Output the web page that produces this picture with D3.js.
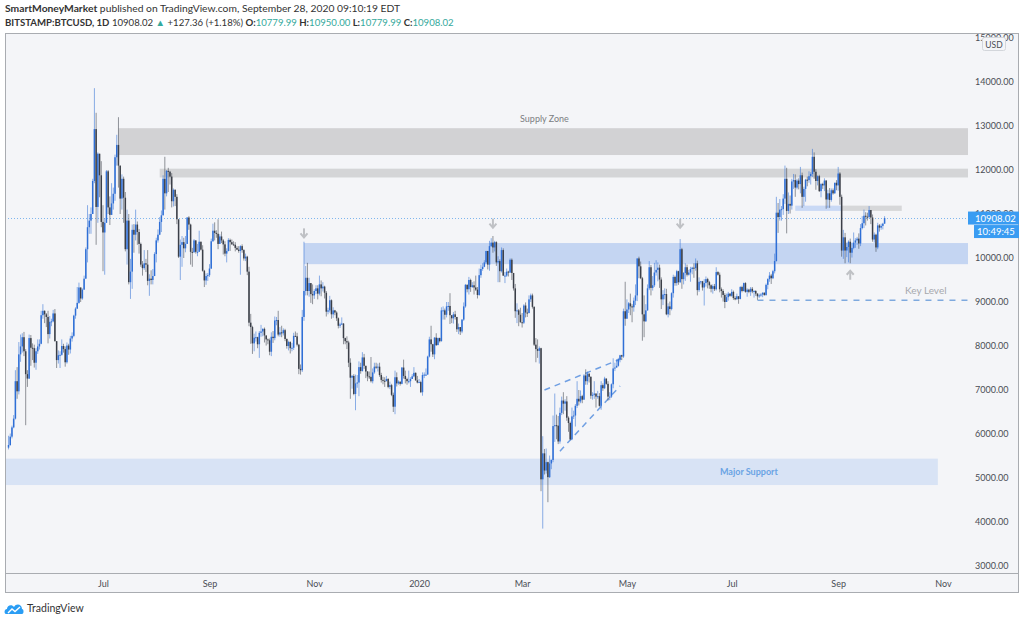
<!DOCTYPE html>
<html>
<head>
<meta charset="utf-8">
<script src="https://cdnjs.cloudflare.com/ajax/libs/d3/7.8.5/d3.min.js"></script>
<style>
  body { margin: 0; background: #fff; }
  svg { display: block; font-family: Lato, "Open Sans", sans-serif; }
</style>
</head>
<body>
<svg id="chart" width="1024" height="623"></svg>
<script>
// BITSTAMP:BTCUSD daily candles, 2019-05-07 .. 2020-09-28 (open = previous close)
const startDate = "2019-05-07";
const firstOpen = 5690;

const closes = [
  5750, 5940, 6150, 6350, 7200, 6970, 7810, 7990, 8200, 7880, 7360, 7260, 8180, 7960, 7950, 7620, 7880, 7990, 8050, 8700, 8800, 8720, 8660, 8270, 8550,
  8560, 8740, 8110, 7680, 7790, 7800, 8000, 7930, 7630, 8010, 7920, 8170, 8230, 8690, 8850, 8980, 9330, 9080, 9280, 9530, 10200, 10700, 10850, 11000, 11750, 12930, 11160, 12370, 11880, 10820,
  10580, 10800, 11970, 11150, 10980, 11240, 11460, 12290, 12570, 12100, 11350, 11800, 11370, 10200, 10850, 9450, 9690, 10640, 10530, 10760, 10590, 10320, 9850, 9770, 9880, 9850, 9480, 9530, 9500, 9590, 10090,
  10400, 10530, 10820, 10970, 11800, 11470, 11980, 11960, 11850, 11290, 11550, 11390, 10880, 10030, 10300, 10360, 10220, 10320, 10920, 10760, 10140, 10130, 10400, 10140, 10140, 10370, 10190, 9710, 9490, 9590, 9610,
  9760, 10380, 10620, 10570, 10550, 10320, 10490, 10400, 10310, 10100, 10160, 10410, 10360, 10310, 10300, 10230, 10190, 10160, 10270, 10180, 9990, 10030, 9690, 8530, 8430, 8060, 8190, 8200, 8040, 8300,
  8330, 8390, 8240, 8150, 8130, 7870, 8210, 8180, 8580, 8590, 8260, 8310, 8290, 8360, 8160, 8000, 8090, 7950, 7960, 8230, 8220, 8030, 7480, 7450, 8660, 9250, 9550, 9250, 9430, 9180, 9150,
  9250, 9310, 9190, 9400, 9310, 9350, 9210, 8780, 8810, 9040, 8720, 8810, 8760, 8630, 8460, 8490, 8510, 8180, 8110, 8080, 7620, 7280, 7320, 6910, 7150, 7170, 7520, 7430, 7740, 7550,
  7420, 7310, 7300, 7200, 7400, 7530, 7510, 7530, 7340, 7230, 7210, 7200, 7250, 7070, 7110, 6890, 6620, 7290, 7150, 7190, 7140, 7510, 7320, 7250, 7200, 7200, 7250, 7310, 7390, 7220, 7170,
  7180, 6950, 7340, 7350, 7350, 7760, 8150, 8040, 7810, 8190, 8020, 8180, 8110, 8810, 8810, 8710, 8900, 8910, 8700, 8630, 8720, 8660, 8380, 8430, 8330, 8600, 8900, 9390, 9290, 9500, 9340,
  9380, 9330, 9280, 9160, 9610, 9750, 9800, 9900, 10160, 9850, 10270, 10350, 10240, 10360, 9900, 9930, 9700, 10180, 9600, 9600, 9690, 9670, 9960, 9660, 9310, 8790, 8810, 8710, 8540,
  8530, 8920, 8760, 8750, 9060, 9150, 8890, 8030, 7930, 7890, 7950, 4970, 5560, 5170, 5360, 5020, 5330, 5410, 6180, 6200, 6190, 5830, 6480, 6760, 6690, 6740, 6370, 6250, 5880, 6400, 6420,
  6640, 6800, 6740, 6860, 6780, 7330, 7200, 7370, 7300, 6870, 6890, 6920, 6850, 6860, 6640, 7110, 7040, 7260, 7140, 6850, 6850, 7130, 7490, 7510, 7550, 7700, 7790, 7760, 8790, 8620,
  8830, 8970, 8900, 8880, 9030, 9150, 9990, 9810, 9540, 8720, 8560, 8810, 9310, 9790, 9320, 9380, 9670, 9730, 9780, 9510, 9060, 9170, 9180, 8720, 8900, 8840, 9200, 9570, 9430, 9700, 9450,
  10200, 9520, 9660, 9790, 9620, 9670, 9750, 9780, 9770, 9880, 9270, 9460, 9470, 9330, 9430, 9520, 9450, 9380, 9300, 9360, 9290, 9680, 9620, 9290, 9250, 9160, 9000, 9110, 9190, 9140,
  9230, 9090, 9060, 9130, 9070, 9340, 9250, 9430, 9230, 9280, 9230, 9300, 9240, 9250, 9190, 9130, 9150, 9170, 9210, 9160, 9390, 9520, 9600, 9540, 9700, 9930, 11030, 10930, 11100, 11110, 11350,
  11800, 11070, 11230, 11190, 11740, 11770, 11600, 11760, 11680, 11880, 11390, 11570, 11780, 11770, 11860, 11910, 12300, 11960, 11750, 11860, 11520, 11680, 11650, 11760, 11330, 11470, 11320, 11540, 11470, 11710, 11650,
  11920, 11390, 10170, 10470, 10170, 10250, 10370, 10120, 10230, 10350, 10400, 10440, 10330, 10680, 10790, 10960, 10940, 10930, 11090, 10920, 10420, 10530, 10240, 10740, 10690, 10730, 10780, 10908.02
];

const highs = [
  5960, 6010, 6190, 6430, 7450, 7520, 8090, 8260, 8290, 8320, 7930, 7450, 8260, 8250, 8060, 8030, 7950, 8150, 8150, 8800, 8950, 8810, 8750, 8800, 8680,
  8620, 8820, 8840, 8110, 7900, 7880, 8150, 8050, 7990, 8080, 8050, 8230, 8310, 8710, 8880, 9340, 9440, 9330, 9310, 9600, 10240, 11200, 11000, 11150, 11800, 13860, 13300, 12400, 12220, 12200,
  11200, 10900, 12000, 12000, 11400, 11700, 11600, 12350, 12800, 13200, 12100, 11900, 11850, 11500, 11100, 11000, 9980, 10760, 10770, 11100, 10830, 10660, 10350, 9930, 10180, 9980, 10180, 9630, 9720, 9750, 10130,
  10460, 10650, 10930, 11080, 11880, 12300, 12000, 12050, 11980, 11930, 11580, 11560, 11450, 10870, 10420, 10500, 10460, 10500, 10930, 10950, 10780, 10230, 10430, 10400, 10320, 10620, 10370, 10290, 9730, 9650, 9660,
  9860, 10440, 10780, 10810, 10630, 10880, 10540, 10600, 10430, 10380, 10220, 10450, 10440, 10420, 10380, 10360, 10270, 10270, 10290, 10310, 10200, 10100, 10050, 9800, 8730, 8460, 8280, 8330, 8210, 8340,
  8480, 8400, 8420, 8210, 8170, 8170, 8310, 8340, 8670, 8660, 8800, 8430, 8460, 8400, 8390, 8170, 8120, 8110, 8070, 8300, 8330, 8300, 8050, 7580, 8820, 10370, 9820, 9890, 9550, 9430, 9400,
  9290, 9380, 9380, 9600, 9490, 9450, 9370, 9250, 8870, 9140, 9060, 8880, 8820, 8790, 8650, 8530, 8650, 8520, 8190, 8220, 8120, 7720, 7340, 7360, 7350, 7340, 7650, 7620, 7860, 7820,
  7550, 7430, 7420, 7750, 7490, 7620, 7620, 7600, 7620, 7390, 7300, 7290, 7320, 7270, 7190, 7140, 6940, 7440, 7400, 7220, 7180, 7520, 7690, 7440, 7280, 7440, 7290, 7360, 7520, 7400, 7320,
  7250, 7210, 7400, 7400, 7490, 7780, 8210, 8460, 8050, 8200, 8290, 8190, 8190, 8880, 8900, 8850, 9000, 9000, 9200, 8700, 8770, 8800, 8660, 8510, 8430, 8610, 8990, 9410, 9400, 9570, 9530,
  9450, 9470, 9600, 9340, 9760, 9850, 9880, 9950, 10160, 10150, 10390, 10450, 10500, 10390, 10380, 10040, 9970, 10240, 10220, 9680, 9760, 9710, 9990, 9990, 9660, 9410, 8970, 8840, 8870,
  8750, 8950, 8990, 8850, 9150, 9190, 9190, 8900, 8180, 8150, 7990, 7960, 5950, 5660, 5670, 5370, 5510, 5420, 6420, 6920, 6440, 6410, 6600, 6850, 6950, 6790, 6860, 6400, 6280, 6600, 6530,
  6680, 7200, 7000, 6990, 6890, 7360, 7470, 7420, 7380, 7310, 6950, 7200, 6920, 6980, 6930, 7200, 7150, 7300, 7260, 7200, 6950, 7150, 7720, 7620, 7700, 7730, 7800, 7800, 8850, 9460,
  9060, 9000, 9190, 8950, 9100, 9400, 9990, 10030, 9920, 9570, 9150, 8950, 9400, 9930, 9840, 9590, 9890, 9950, 9900, 9850, 9560, 9270, 9310, 9300, 8970, 9010, 9220, 9620, 9600, 9730, 9710,
  10430, 10230, 9680, 9880, 9850, 9730, 9800, 9800, 9880, 9990, 9940, 9560, 9480, 9480, 9520, 9580, 9550, 9480, 9400, 9400, 9410, 9790, 9700, 9670, 9330, 9290, 9200, 9190, 9230, 9200,
  9290, 9260, 9130, 9190, 9130, 9360, 9370, 9440, 9450, 9310, 9300, 9340, 9340, 9270, 9270, 9200, 9190, 9200, 9220, 9220, 9420, 9540, 9680, 9640, 9730, 10100, 11390, 11250, 11340, 11180, 11450,
  12100, 12050, 11490, 11420, 11800, 11910, 11900, 11800, 11810, 12070, 11940, 11620, 11800, 11850, 11970, 11950, 12480, 12400, 12020, 11880, 11890, 11700, 11710, 11810, 11770, 11550, 11590, 11580, 11580, 11710, 11770,
  12070, 11950, 11440, 10640, 10570, 10350, 10400, 10440, 10350, 10580, 10450, 10480, 10560, 10770, 10950, 11100, 11040, 11030, 11180, 11050, 10990, 10580, 10550, 10800, 10770, 10780, 10800, 10950
];

const lows = [
  5650, 5730, 5900, 6130, 6330, 6800, 6900, 7640, 7850, 7770, 6200, 7070, 7250, 7550, 7680, 7510, 7460, 7820, 7920, 8040, 8620, 8520, 8430, 8060, 8170,
  8450, 8540, 8100, 7500, 7600, 7500, 7780, 7850, 7530, 7600, 7800, 7830, 8100, 8200, 8620, 8840, 8960, 9000, 9050, 9290, 9530, 9900, 10550, 10550, 11000, 11700, 10300, 10800, 11380, 10700,
  9700, 9620, 10800, 11000, 10750, 10980, 11100, 11300, 12100, 11600, 11000, 11100, 10800, 10150, 9850, 9400, 9070, 9300, 10120, 10400, 10300, 10100, 9800, 9600, 9730, 9680, 9380, 9140, 9400, 9400, 9590,
  9900, 10350, 10520, 10590, 10970, 11100, 11400, 11500, 11670, 11150, 11170, 11180, 10770, 10000, 9500, 9800, 10000, 10130, 10320, 10640, 9850, 9800, 10120, 10100, 10040, 10140, 10170, 9690, 9340, 9390, 9480,
  9570, 9750, 10370, 10400, 10460, 10200, 10360, 10340, 10080, 10040, 9900, 10150, 10160, 10300, 10280, 10150, 10180, 10120, 9620, 10120, 9940, 9930, 9610, 8450, 8050, 7820, 7880, 8100, 7950, 7730,
  8210, 8220, 8080, 8010, 8040, 7790, 7770, 8070, 8130, 8470, 8220, 8210, 8200, 8240, 8110, 7940, 7900, 7830, 7880, 7910, 8210, 7990, 7360, 7350, 7410, 8570, 9150, 9150, 9120, 8980, 8950,
  9070, 9180, 9060, 9150, 9130, 9240, 9080, 8670, 8720, 8760, 8620, 8640, 8700, 8570, 8400, 8410, 8480, 8040, 8040, 7930, 7520, 6800, 7030, 6880, 6540, 7050, 6860, 7370, 7420, 7480,
  7270, 7200, 7250, 7170, 7150, 7370, 7480, 7420, 7300, 7170, 7130, 7070, 7200, 7040, 7020, 6860, 6500, 6450, 7080, 7120, 7100, 7130, 7260, 7150, 7120, 7150, 7070, 7260, 7290, 7210, 7150,
  7170, 6930, 6870, 7270, 7320, 7350, 7740, 7870, 7750, 7700, 8000, 8050, 8080, 8100, 8600, 8600, 8650, 8800, 8500, 8520, 8510, 8600, 8320, 8270, 8250, 8290, 8570, 8870, 9220, 9170, 9230,
  9320, 9170, 9250, 9080, 9140, 9550, 9710, 9790, 9860, 9740, 9710, 10250, 10120, 10150, 9820, 9450, 9450, 9670, 9590, 9430, 9570, 9580, 9660, 9500, 9260, 8640, 8520, 8450, 8530,
  8420, 8500, 8650, 8660, 8740, 9000, 8850, 8000, 7630, 7730, 7600, 4700, 3850, 5080, 5100, 4450, 5000, 5200, 5360, 5820, 5880, 5770, 5780, 6430, 6450, 6530, 6300, 6050, 5860, 5860, 6340,
  6170, 6590, 6650, 6700, 6700, 6780, 7120, 7120, 7170, 6800, 6780, 6800, 6600, 6800, 6620, 6550, 6980, 7020, 7120, 6760, 6770, 6820, 7040, 7430, 7510, 7530, 7630, 7680, 7730, 8460,
  8630, 8750, 8700, 8540, 8780, 8930, 9020, 9540, 9520, 8120, 8200, 8550, 8800, 9270, 9150, 9260, 9340, 9600, 9470, 9320, 8840, 8930, 9060, 8700, 8650, 8700, 8810, 9100, 9370, 9370, 9390,
  9430, 9300, 9400, 9480, 9580, 9600, 9460, 9630, 9550, 9710, 9150, 9230, 9400, 9260, 8920, 9350, 9310, 9300, 9220, 9190, 9250, 9260, 9600, 9220, 9100, 9010, 8860, 9000, 9030, 9120,
  9120, 9050, 9040, 9060, 8960, 9060, 9220, 9240, 9210, 9120, 9200, 9140, 9200, 9100, 9140, 9050, 9090, 9120, 9110, 9140, 9140, 9290, 9460, 9410, 9520, 9650, 9920, 10570, 10850, 10850, 10980,
  11230, 10560, 11000, 11010, 11100, 11570, 11390, 11560, 11560, 11470, 11140, 11180, 11280, 11630, 11710, 11670, 11840, 11800, 11550, 11650, 11500, 11380, 11570, 11520, 11120, 11140, 11140, 11280, 11440, 11460, 11540,
  11530, 11210, 10030, 9980, 9880, 10020, 9900, 9880, 10010, 10200, 10230, 10300, 10210, 10270, 10650, 10680, 10740, 10850, 10900, 10770, 10370, 10350, 10140, 10200, 10600, 10640, 10650, 10779.99
];

// axis ticks
const monthTicks = ["2019-07-01", "2019-09-01", "2019-11-01", "2020-01-01", "2020-03-01", "2020-05-01", "2020-07-01", "2020-09-01", "2020-11-01"];
const monthLabels = ["Jul", "Sep", "Nov", "2020", "Mar", "May", "Jul", "Sep", "Nov"];
const priceTicks = [3000, 4000, 5000, 6000, 7000, 8000, 9000, 10000, 11000, 12000, 13000, 14000, 15000];

// drawn zones (date range, price range)
const zoneFrom  = ["2019-07-10", "2019-08-03", "2019-10-26", "2020-08-07", "2020-09-03", "2019-04-01"];
const zoneTo    = ["2021-01-01", "2021-01-01", "2021-01-01", "2020-09-03", "2020-10-08", "2020-10-29"];
const zoneLow   = [12340, 11830, 9860, 11070, 11070, 4840];
const zoneHigh  = [12950, 12030, 10340, 11190, 11190, 5440];
const zoneColor = ["#d2d2d4", "#d4d5d7", "#c4d5f2", "#c9d9f5", "#d6d7d9", "#d8e3f5"];

// arrows (date, price, direction)
const arrowDates  = ["2019-10-26", "2020-02-13", "2020-06-01", "2020-09-08"];
const arrowPrices = [10560, 10780, 10780, 9620];
const arrowDirs   = ["down", "down", "down", "up"];

// rising wedge lines
const wedgeDates  = [["2020-03-14", "2020-04-29"], ["2020-03-23", "2020-04-27"]];
const wedgePrices = [[7000, 7730], [5610, 7090]];

// key level
const keyLevelFrom = "2020-07-16";
const keyLevel = 9040;

const lastPrice = 10908.02;

// ---------------------------------------------------------------
const parse = d3.utcParse("%Y-%m-%d");
const svg = d3.select("#chart");

const plot = { left: 5, right: 968, top: 33, bottom: 573 };
const outerRight = 1019, outerBottom = 593;

const x = d3.scaleUtc()
  .domain([parse("2019-07-01"), parse("2020-07-01")])
  .range([103, 731.7]);

const y = d3.scaleLinear()
  .domain([3000, 15000])
  .range([566, 38]);

const start = parse(startDate);
const candles = closes.map((c, i) => {
  const open = i === 0 ? firstOpen : closes[i - 1];
  return {
    date: d3.utcDay.offset(start, i),
    open: open,
    close: c,
    high: Math.max(highs[i], open, c),
    low: Math.min(lows[i], open, c)
  };
});

// frame
svg.append("rect")
  .attr("x", plot.left + 0.5).attr("y", plot.top + 0.5)
  .attr("width", outerRight - plot.left - 1).attr("height", outerBottom - plot.top - 1)
  .attr("fill", "#f4f5f8").attr("stroke", "#a9acb1");

svg.append("line")
  .attr("x1", plot.left).attr("x2", outerRight)
  .attr("y1", plot.bottom + 0.5).attr("y2", plot.bottom + 0.5)
  .attr("stroke", "#a9acb1");

svg.append("clipPath").attr("id", "plotClip")
  .append("rect")
  .attr("x", plot.left + 1).attr("y", plot.top + 1)
  .attr("width", plot.right - plot.left - 1).attr("height", plot.bottom - plot.top - 1);

const g = svg.append("g").attr("clip-path", "url(#plotClip)");

// zones
g.selectAll("rect.zone")
  .data(zoneFrom)
  .enter()
  .append("rect")
  .attr("class", "zone")
  .attr("x", (d, i) => Math.max(plot.left, x(parse(d))))
  .attr("y", (d, i) => y(zoneHigh[i]))
  .attr("width", (d, i) => Math.min(plot.right, x(parse(zoneTo[i]))) - Math.max(plot.left, x(parse(d))))
  .attr("height", (d, i) => y(zoneLow[i]) - y(zoneHigh[i]))
  .attr("fill", (d, i) => zoneColor[i]);

// last price dotted line
g.append("line")
  .attr("x1", plot.left).attr("x2", plot.right)
  .attr("y1", Math.round(y(lastPrice)) + 0.5).attr("y2", Math.round(y(lastPrice)) + 0.5)
  .attr("stroke", "#7fb6ee").attr("stroke-width", 1)
  .attr("stroke-dasharray", "1,2");

// key level dashed line
g.append("line")
  .attr("x1", x(parse(keyLevelFrom))).attr("x2", plot.right)
  .attr("y1", y(keyLevel)).attr("y2", y(keyLevel))
  .attr("stroke", "#7ea9de").attr("stroke-width", 1.5)
  .attr("stroke-dasharray", "6,6");

// wedge lines
g.selectAll("line.wedge")
  .data(wedgeDates)
  .enter()
  .append("line")
  .attr("class", "wedge")
  .attr("x1", d => x(parse(d[0]))).attr("x2", d => x(parse(d[1])))
  .attr("y1", (d, i) => y(wedgePrices[i][0])).attr("y2", (d, i) => y(wedgePrices[i][1]))
  .attr("stroke", "#6f9fe3").attr("stroke-width", 1.5)
  .attr("stroke-dasharray", "6,5");

// candles
const upColor = "#2f6fd6", downColor = "#3b3f48";
const colorOf = d => d.close >= d.open ? upColor : downColor;

g.selectAll("line.wick")
  .data(candles)
  .enter()
  .append("line")
  .attr("class", "wick")
  .attr("x1", d => x(d.date)).attr("x2", d => x(d.date))
  .attr("y1", d => y(d.high)).attr("y2", d => y(d.low))
  .attr("stroke", colorOf)
  .attr("stroke-opacity", 0.55)
  .attr("stroke-width", 1);

g.selectAll("rect.body")
  .data(candles)
  .enter()
  .append("rect")
  .attr("class", "body")
  .attr("x", d => x(d.date) - 0.75)
  .attr("width", 1.5)
  .attr("y", d => y(Math.max(d.open, d.close)))
  .attr("height", d => Math.max(1, Math.abs(y(d.open) - y(d.close))))
  .attr("fill", colorOf);

// arrows
const arrowG = g.selectAll("g.arrow")
  .data(arrowDates)
  .enter()
  .append("g")
  .attr("class", "arrow")
  .attr("transform", (d, i) => `translate(${x(parse(d))},${y(arrowPrices[i])})${arrowDirs[i] === "up" ? " rotate(180)" : ""}`);
arrowG.append("line")
  .attr("x1", 0).attr("x2", 0).attr("y1", -5).attr("y2", 3)
  .attr("stroke", "#bfc1c5").attr("stroke-width", 2);
arrowG.append("path")
  .attr("d", "M-3.5,0 L0,4 L3.5,0")
  .attr("fill", "none").attr("stroke", "#bfc1c5").attr("stroke-width", 2);

// zone labels
g.append("text")
  .attr("x", x(parse("2020-03-14"))).attr("y", y(13090))
  .attr("text-anchor", "middle").attr("font-size", 9).attr("fill", "#7b7d82")
  .text("Supply Zone");

g.append("text")
  .attr("x", x(parse("2020-07-11"))).attr("y", y(5140) + 3)
  .attr("text-anchor", "middle").attr("font-size", 9).attr("font-weight", "bold").attr("fill", "#6aa3e4")
  .text("Major Support");

g.append("text")
  .attr("x", x(parse("2020-10-22"))).attr("y", y(9240) + 3)
  .attr("text-anchor", "middle").attr("font-size", 10).attr("fill", "#a6a8ad")
  .text("Key Level");

// price axis
const yAxis = d3.axisRight(y)
  .tickValues(priceTicks)
  .tickFormat(d3.format(".2f"))
  .tickSize(0)
  .tickPadding(0);

const yAxisG = svg.append("g")
  .attr("transform", `translate(975,0)`)
  .call(yAxis);
yAxisG.select(".domain").remove();
yAxisG.selectAll("text")
  .attr("font-family", "Lato, 'Open Sans', sans-serif")
  .attr("font-size", 9)
  .attr("fill", "#4a4d55");

// time axis
const xAxis = d3.axisBottom(x)
  .tickValues(monthTicks.map(parse))
  .tickFormat((d, i) => monthLabels[i])
  .tickSize(0)
  .tickPadding(0);

const xAxisG = svg.append("g")
  .attr("transform", `translate(0,${plot.bottom + 8})`)
  .call(xAxis);
xAxisG.select(".domain").remove();
xAxisG.selectAll("text")
  .attr("font-family", "Lato, 'Open Sans', sans-serif")
  .attr("font-size", 9)
  .attr("fill", "#4a4d55");

// USD badge
svg.append("rect")
  .attr("x", 982.5).attr("y", 37.5).attr("width", 23).attr("height", 13).attr("rx", 2)
  .attr("fill", "#f4f5f8").attr("stroke", "#d3d6db");
svg.append("text")
  .attr("x", 994).attr("y", 47.5).attr("text-anchor", "middle")
  .attr("font-size", 8.5).attr("fill", "#4a4d55").text("USD");

// last price labels
const yLast = y(lastPrice);
svg.append("line")
  .attr("x1", plot.right).attr("x2", plot.right + 4)
  .attr("y1", Math.round(yLast) + 0.5).attr("y2", Math.round(yLast) + 0.5)
  .attr("stroke", "#2196f3");
svg.append("rect")
  .attr("x", plot.right).attr("y", yLast - 6.5).attr("width", outerRight - plot.right).attr("height", 13)
  .attr("fill", "#3a9cf2");
svg.append("text")
  .attr("x", 975).attr("y", yLast + 3.5)
  .attr("font-size", 9.5).attr("fill", "#fff").text(d3.format(".2f")(lastPrice));
svg.append("rect")
  .attr("x", 974).attr("y", yLast + 7).attr("width", outerRight - 974).attr("height", 13)
  .attr("fill", "#3a9cf2");
svg.append("text")
  .attr("x", 977).attr("y", yLast + 17)
  .attr("font-size", 9.5).attr("fill", "#fff").text("10:49:45");

// header
const h1 = svg.append("text").attr("x", 5).attr("y", 11.5)
  .attr("font-size", 10.3).attr("fill", "#333");
h1.append("tspan").attr("font-weight", "bold").text("SmartMoneyMarket");
h1.append("tspan").text(" published on TradingView.com, September 28, 2020 09:10:19 EDT");

const teal = "#35a99c";
const h2 = svg.append("text").attr("x", 5).attr("y", 26)
  .attr("font-size", 9.6).attr("fill", "#333");
h2.append("tspan").attr("font-weight", "bold").text("BITSTAMP:BTCUSD, 1D");
h2.append("tspan").text(" 10908.02 ");
h2.append("tspan").attr("fill", teal).text("▲");
h2.append("tspan").text(" +127.36 (+1.18%) ");
[["O:", "10779.99"], ["H:", "10950.00"], ["L:", "10779.99"], ["C:", "10908.02"]].forEach((p, i) => {
  h2.append("tspan").attr("font-weight", "bold").text((i ? " " : "") + p[0]);
  h2.append("tspan").attr("fill", teal).text(p[1]);
});

// footer logo
const logo = svg.append("g").attr("transform", "translate(5,602)");
logo.append("path")
  .attr("d", "M1,12 C-1,12 -1,7 2,7 C2,3 7,2 9,5 C11,1 17,2 17,7 C19,7 19,12 17,12 Z")
  .attr("fill", "#2a9df4");
logo.append("path")
  .attr("d", "M3,11 L7,7 L10,9.5 L15,5")
  .attr("fill", "none").attr("stroke", "#fff").attr("stroke-width", 1.4);
svg.append("text")
  .attr("x", 27).attr("y", 612)
  .attr("font-size", 10.5).attr("fill", "#333").text("TradingView");
</script>
</body>
</html>
